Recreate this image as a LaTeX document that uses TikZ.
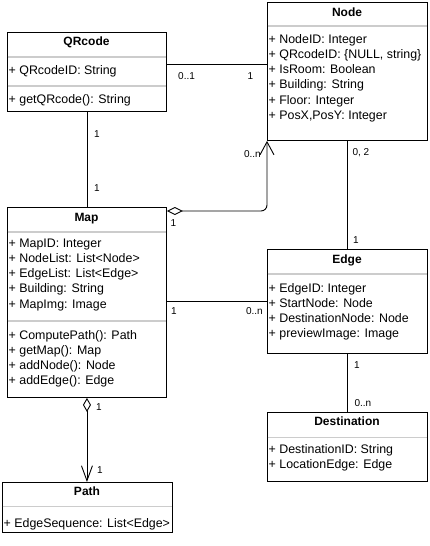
\documentclass[tikz,border=0pt]{standalone}
\usepackage{fontspec}
\setmainfont{Liberation Sans}
\usetikzlibrary{arrows.meta}
\begin{document}
\begin{tikzpicture}[x=1pt,y=-1pt,
  cls/.style={draw,line width=0.9pt,anchor=north west,inner sep=0pt,fill=white},
  ttl/.style={anchor=base,font=\fontsize{12}{14}\selectfont\bfseries,inner sep=0pt},
  attr/.style={anchor=base west,font=\fontsize{12.4}{14}\selectfont,inner sep=0pt},
  div/.style={draw=gray!40,line width=1.4pt},
  conn/.style={line width=0.9pt},
  lbl/.style={font=\fontsize{10}{12}\selectfont,inner sep=0pt,anchor=base west},
  lblr/.style={lbl,anchor=base east},
  aggA/.style={conn,{Diamond[open,length=16pt,width=8pt,line width=0.9pt]}-{Straight Barb[length=13pt,width=14pt,line width=0.9pt]}},
  aggB/.style={conn,{Diamond[open,length=14pt,width=8pt,line width=0.9pt]}-{Straight Barb[length=15pt,width=11pt,line width=0.9pt]}}
]
\fill[white] (0,0) rectangle (429,546);
\useasboundingbox (0,0) rectangle (429,546);

% QRcode
\node[cls,minimum width=159pt,minimum height=79pt] (qr) at (7,32) {};
\draw[div] (7.5,57) -- (165.5,57);
\draw[div] (7.5,86) -- (165.5,86);
\node[ttl] (qrt) at (86.5,45.3) {QRcode};
\node[attr] (qra1) at (8.5,74.3) {+ QRcodeID: String};
\node[attr] (qrm1) at (8.5,103.3) {+ getQRcode(): String};

% Node
\node[cls,minimum width=160pt,minimum height=138pt] (nd) at (267,2) {};
\draw[div] (267.5,26) -- (426.5,26);
\node[ttl] (ndt) at (347,16.3) {Node};
\node[attr] (nda1) at (268.5,43.6) {+ NodeID: Integer};
\node[attr] (nda2) at (268.5,58.7) {+ QRcodeID: \{NULL, string\}};
\node[attr] (nda3) at (268.5,73.8) {+ IsRoom: Boolean};
\node[attr] (nda4) at (268.5,88.9) {+ Building: String};
\node[attr] (nda5) at (268.5,104) {+ Floor: Integer};
\node[attr] (nda6) at (268.5,119.1) {+ PosX,PosY: Integer};

% Map
\node[cls,minimum width=159pt,minimum height=190pt] (map) at (7,207) {};
\draw[div] (7.5,232) -- (165.5,232);
\draw[div] (7.5,321) -- (165.5,321);
\node[ttl] (mapt) at (86.5,221.3) {Map};
\node[attr] (mapa1) at (8.5,247.6) {+ MapID: Integer};
\node[attr] (mapa2) at (8.5,262.7) {+ NodeList: List<Node>};
\node[attr] (mapa3) at (8.5,277.8) {+ EdgeList: List<Edge>};
\node[attr] (mapa4) at (8.5,292.9) {+ Building: String};
\node[attr] (mapa5) at (8.5,308) {+ MapImg: Image};
\node[attr] (mapm1) at (8.5,339.3) {+ ComputePath(): Path};
\node[attr] (mapm2) at (8.5,354.4) {+ getMap(): Map};
\node[attr] (mapm3) at (8.5,369.5) {+ addNode(): Node};
\node[attr] (mapm4) at (8.5,384.6) {+ addEdge(): Edge};

% Edge
\node[cls,minimum width=160pt,minimum height=104pt] (ed) at (267,249) {};
\draw[div] (267.5,274) -- (426.5,274);
\node[ttl] (edt) at (347,263.6) {Edge};
\node[attr] (eda1) at (268.5,292.6) {+ EdgeID: Integer};
\node[attr] (eda2) at (268.5,307.7) {+ StartNode: Node};
\node[attr] (eda3) at (268.5,322.8) {+ DestinationNode: Node};
\node[attr] (eda4) at (268.5,337.9) {+ previewImage: Image};

% Destination
\node[cls,minimum width=160pt,minimum height=69pt] (ds) at (267,412) {};
\draw[div] (267.5,437.3) -- (426.5,437.3);
\node[ttl] (dst) at (347,425.3) {Destination};
\node[attr] (dsa1) at (268.5,453.6) {+ DestinationID: String};
\node[attr] (dsa2) at (268.5,468.7) {+ LocationEdge: Edge};

% Path
\node[cls,minimum width=170pt,minimum height=50pt] (pa) at (2,482) {};
\draw[div] (2.5,506.7) -- (171.5,506.7);
\node[ttl] (pat) at (87,495) {Path};
\node[attr] (paa1) at (3.5,527) {+ EdgeSequence: List<Edge>};

% Connectors
\draw[conn] (qr.east |- 0,64) -- (nd.west |- 0,64);
\node[lbl] (c1a) at (178,79.6) {0..1};
\node[lbl] (c1b) at (247.5,79.6) {1};

\draw[conn] (qr.south) -- (map.north);
\node[lbl] (c2a) at (94,137.6) {1};
\node[lbl] (c2b) at (94,191.3) {1};

\draw[aggA,rounded corners=6pt] ([yshift=-4pt]map.north east) -| (nd.south west);
\node[lblr] (c3a) at (261,157.6) {0..n};
\node[lbl] (c3b) at (170.5,226.6) {1};

\draw[conn] (nd.south) -- (ed.north);
\node[lbl] (c4a) at (352.3,155.3) {0, 2};
\node[lbl] (c4b) at (353,243) {1};

\draw[conn] (map.east |- 0,301) -- (ed.west |- 0,301);
\node[lbl] (c5a) at (171,314.6) {1};
\node[lblr] (c5b) at (263,314.6) {0..n};

\draw[conn] (ed.south) -- (ds.north);
\node[lbl] (c6a) at (354,368) {1};
\node[lbl] (c6b) at (354.3,406.3) {0..n};

\draw[aggB] (map.south) -- (map.south |- pa.north);
\node[lbl] (c7a) at (96,410.3) {1};
\node[lbl] (c7b) at (97,473) {1};
\end{tikzpicture}
\end{document}
